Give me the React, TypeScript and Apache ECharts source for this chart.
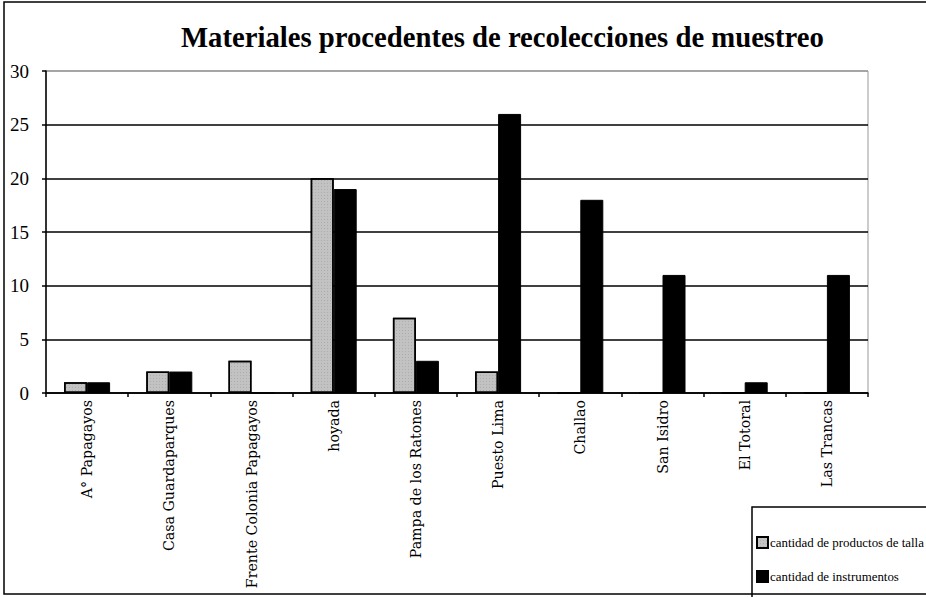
import React, { useEffect, useRef } from "react";
import * as echarts from "echarts";

const categories = [
  "A° Papagayos",
  "Casa Guardaparques",
  "Frente Colonia Papagayos",
  "hoyada",
  "Pampa de los Ratones",
  "Puesto Lima",
  "Challao",
  "San Isidro",
  "El Totoral",
  "Las Trancas",
];
const productosDeTalla = [1, 2, 3, 20, 7, 2, 0, 0, 0, 0];
const instrumentos = [1, 2, 0, 19, 3, 26, 18, 11, 1, 11];
const yTicks = { min: 0, max: 30, interval: 5 };
const seriesNames = ["cantidad de productos de talla", "cantidad de instrumentos"];
const titleText = "Materiales procedentes de recolecciones de muestreo";

export default function App() {
  const ref = useRef<HTMLDivElement>(null);
  useEffect(() => {
    if (!ref.current) return;
    const chart = echarts.init(ref.current, undefined, { renderer: "svg" });
    chart.setOption({
      animation: false,
      backgroundColor: "#ffffff",
      title: {
        text: titleText,
        left: 176,
        top: 17,
        textStyle: {
          fontFamily: "Liberation Serif",
          fontWeight: "bold",
          fontSize: 28.7,
          color: "#000",
        },
      },
      grid: {
        left: 46,
        top: 71,
        width: 822,
        height: 322,
        show: true,
        borderColor: "#999",
        borderWidth: 1,
        backgroundColor: "transparent",
      },
      legend: {
        orient: "vertical",
        left: 751,
        top: 531,
        itemWidth: 11,
        itemHeight: 11,
        itemGap: 21,
        icon: "rect",
        data: seriesNames,
        textStyle: { fontFamily: "Liberation Serif", fontSize: 12.9, color: "#000", padding: [0, 0, 0, -3] },
      },
      xAxis: {
        type: "category",
        data: categories,
        axisLine: { lineStyle: { color: "#000", width: 1.5 } },
        axisTick: { show: true, length: 4, lineStyle: { color: "#000", width: 1.5 } },
        axisLabel: {
          rotate: 90,
          interval: 0,
          margin: 7,
          fontFamily: "DejaVu Serif",
          fontSize: 14.2,
          color: "#000",
        },
      },
      yAxis: {
        type: "value",
        min: yTicks.min,
        max: yTicks.max,
        interval: yTicks.interval,
        axisLine: { show: true, lineStyle: { color: "#000", width: 1.5 } },
        axisTick: { show: true, length: 4, lineStyle: { color: "#000", width: 1.5 } },
        axisLabel: {
          margin: 17,
          fontFamily: "Liberation Serif",
          fontSize: 19,
          color: "#000",
        },
        splitLine: {
          show: true,
          lineStyle: {
            color: ["#000", "#000", "#000", "#000", "#000", "#000", "#999"],
            width: 1.5,
          },
        },
      },
      series: [
        {
          name: seriesNames[0],
          type: "bar",
          data: productosDeTalla,
          barWidth: 23,
          barGap: "0%",
          itemStyle: {
            color: "#c2c2c2",
            borderColor: "#000",
            borderWidth: 1.5,
            decal: {
              symbol: "rect",
              symbolSize: 0.6,
              color: "rgba(0,0,0,0.35)",
              dashArrayX: [1, 2],
              dashArrayY: [1, 2],
              rotation: 0,
            },
          },
        },
        {
          name: seriesNames[1],
          type: "bar",
          data: instrumentos,
          barWidth: 23,
          itemStyle: { color: "#000", borderColor: "#000", borderWidth: 1 },
        },
      ],
      graphic: [
        {
          type: "rect",
          shape: { x: 4, y: 2, width: 960, height: 592 },
          style: { fill: "none", stroke: "#000", lineWidth: 1.5 },
          silent: true,
        },
        {
          type: "rect",
          shape: { x: 752, y: 507, width: 200, height: 120 },
          style: { fill: "#fff", stroke: "#000", lineWidth: 1.5 },
          z: -1,
          silent: true,
        },
      ],
    });
    return () => chart.dispose();
  }, []);
  return (
    <div
      ref={ref}
      style={{ position: "fixed", left: 0, top: 0, width: 926, height: 597 }}
    />
  );
}
